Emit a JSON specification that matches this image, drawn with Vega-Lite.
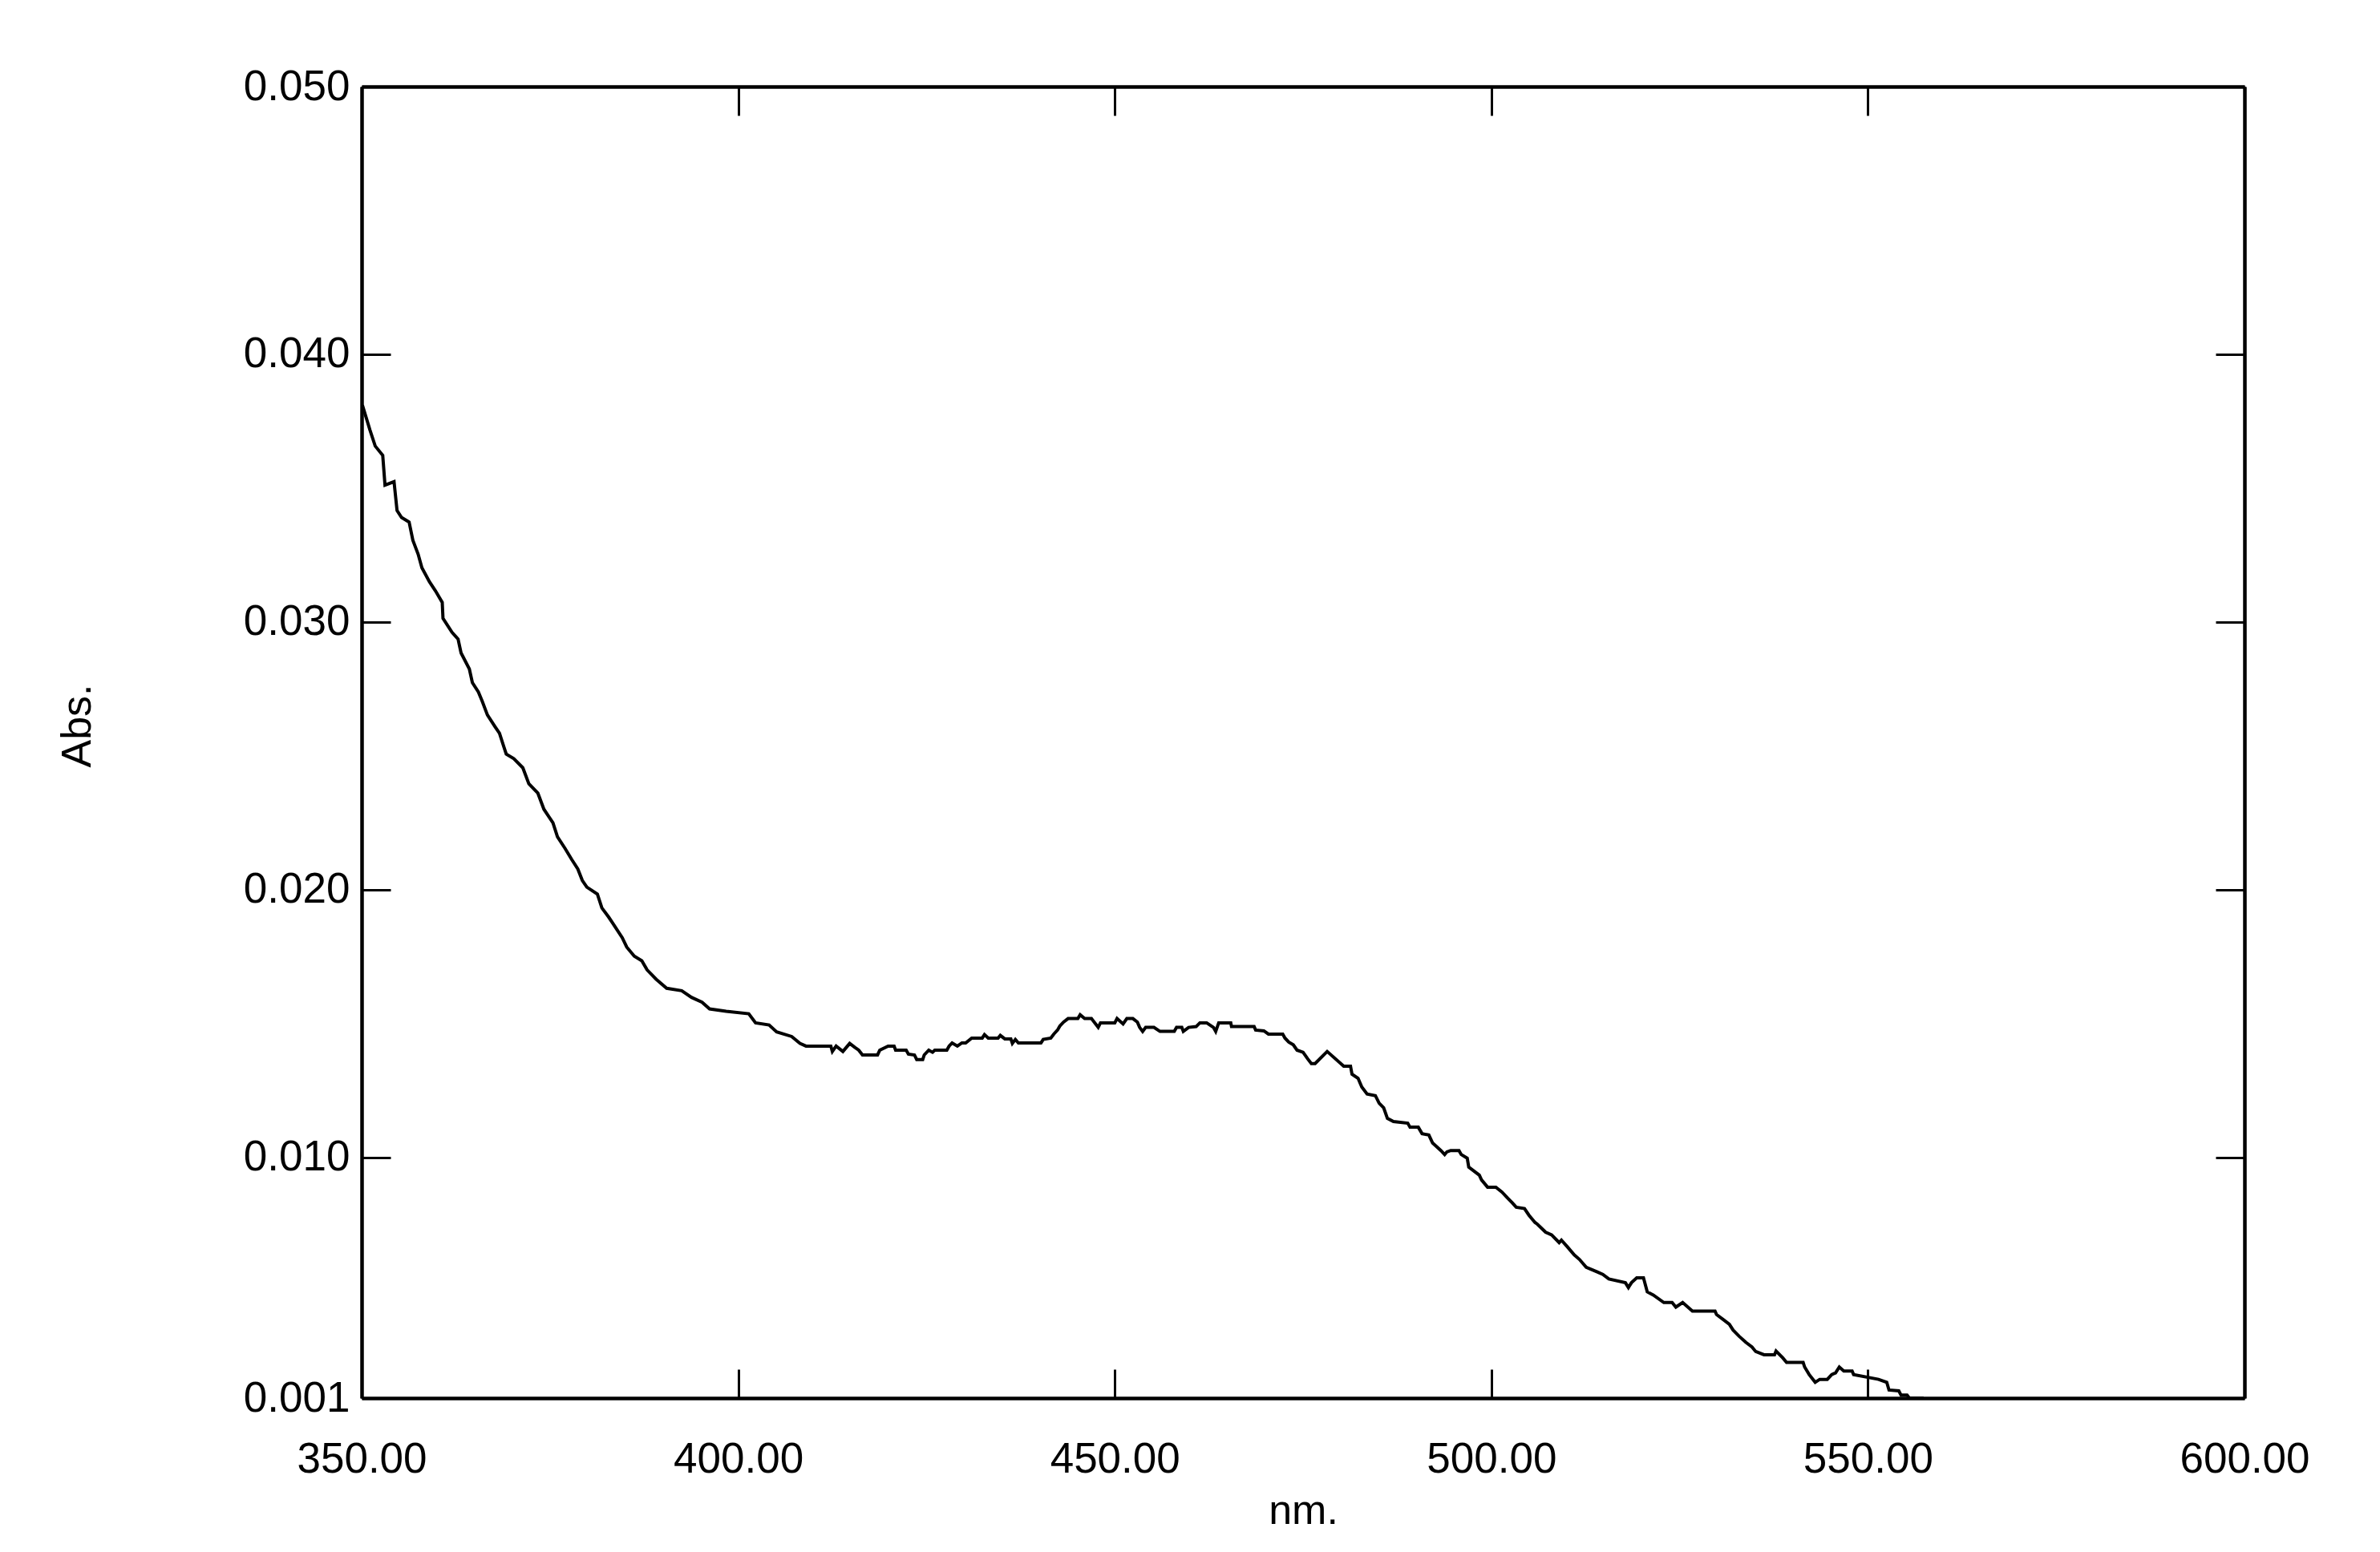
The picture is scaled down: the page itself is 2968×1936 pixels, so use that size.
{
  "$schema": "https://vega.github.io/schema/vega-lite/v6.json",
  "width": 2348,
  "height": 1636,
  "autosize": {"type": "none"},
  "padding": {"left": 451, "top": 108, "right": 169, "bottom": 192},
  "background": "white",
  "config": {
    "view": {"stroke": null},
    "font": "Liberation Sans",
    "axis": {
      "grid": false,
      "domainColor": "black",
      "domainWidth": 4.5,
      "tickColor": "black",
      "tickWidth": 3,
      "tickSize": -36,
      "labelColor": "black",
      "labelFont": "Liberation Sans",
      "labelFontSize": 53,
      "titleColor": "black",
      "titleFont": "Liberation Sans",
      "titleFontSize": 52,
      "titleFontWeight": "normal"
    }
  },
  "data": {
    "values": [
      {"nm": 350.1, "abs": 0.0381},
      {"nm": 351.1, "abs": 0.03717},
      {"nm": 351.8, "abs": 0.03657},
      {"nm": 352.8, "abs": 0.03622},
      {"nm": 353.1, "abs": 0.03511},
      {"nm": 354.3, "abs": 0.03524},
      {"nm": 354.7, "abs": 0.03416},
      {"nm": 355.3, "abs": 0.0339},
      {"nm": 356.3, "abs": 0.03373},
      {"nm": 356.8, "abs": 0.03305},
      {"nm": 357.5, "abs": 0.03253},
      {"nm": 358.0, "abs": 0.03202},
      {"nm": 359.0, "abs": 0.0315},
      {"nm": 359.8, "abs": 0.03116},
      {"nm": 360.7, "abs": 0.03073},
      {"nm": 360.8, "abs": 0.03013},
      {"nm": 362.0, "abs": 0.02961},
      {"nm": 362.8, "abs": 0.02936},
      {"nm": 363.2, "abs": 0.02884},
      {"nm": 364.3, "abs": 0.02824},
      {"nm": 364.7, "abs": 0.02773},
      {"nm": 365.5, "abs": 0.02738},
      {"nm": 366.0, "abs": 0.02704},
      {"nm": 366.7, "abs": 0.02652},
      {"nm": 367.7, "abs": 0.02609},
      {"nm": 368.3, "abs": 0.02584},
      {"nm": 368.9, "abs": 0.02532},
      {"nm": 369.2, "abs": 0.02506},
      {"nm": 370.2, "abs": 0.02489},
      {"nm": 371.4, "abs": 0.02455},
      {"nm": 372.2, "abs": 0.02395},
      {"nm": 373.4, "abs": 0.0236},
      {"nm": 374.2, "abs": 0.023},
      {"nm": 375.4, "abs": 0.02249},
      {"nm": 376.0, "abs": 0.02197},
      {"nm": 377.0, "abs": 0.02154},
      {"nm": 377.9, "abs": 0.02112},
      {"nm": 378.7, "abs": 0.02077},
      {"nm": 379.3, "abs": 0.02034},
      {"nm": 379.9, "abs": 0.02009},
      {"nm": 381.3, "abs": 0.01983},
      {"nm": 381.9, "abs": 0.01931},
      {"nm": 382.8, "abs": 0.01897},
      {"nm": 383.6, "abs": 0.01863},
      {"nm": 384.6, "abs": 0.0182},
      {"nm": 385.2, "abs": 0.01785},
      {"nm": 386.2, "abs": 0.01751},
      {"nm": 387.2, "abs": 0.01734},
      {"nm": 387.9, "abs": 0.017},
      {"nm": 389.1, "abs": 0.01665},
      {"nm": 390.5, "abs": 0.01631},
      {"nm": 392.5, "abs": 0.01622},
      {"nm": 393.8, "abs": 0.01597},
      {"nm": 395.2, "abs": 0.01579},
      {"nm": 396.2, "abs": 0.01554},
      {"nm": 398.4, "abs": 0.01545},
      {"nm": 401.4, "abs": 0.01536},
      {"nm": 402.3, "abs": 0.01502},
      {"nm": 404.1, "abs": 0.01494},
      {"nm": 405.1, "abs": 0.01468},
      {"nm": 407.1, "abs": 0.01451},
      {"nm": 408.2, "abs": 0.01425},
      {"nm": 409.0, "abs": 0.01415},
      {"nm": 412.3, "abs": 0.01415},
      {"nm": 412.5, "abs": 0.01395},
      {"nm": 413.0, "abs": 0.01415},
      {"nm": 413.9, "abs": 0.01395},
      {"nm": 414.8, "abs": 0.01425},
      {"nm": 415.5, "abs": 0.0141},
      {"nm": 416.0, "abs": 0.014},
      {"nm": 416.5, "abs": 0.01382},
      {"nm": 418.5, "abs": 0.01382},
      {"nm": 418.8, "abs": 0.014},
      {"nm": 419.9, "abs": 0.01415},
      {"nm": 420.7, "abs": 0.01415},
      {"nm": 420.9, "abs": 0.014},
      {"nm": 422.3, "abs": 0.014},
      {"nm": 422.6, "abs": 0.01385},
      {"nm": 423.4, "abs": 0.01382},
      {"nm": 423.7, "abs": 0.01365},
      {"nm": 424.5, "abs": 0.01365},
      {"nm": 424.7, "abs": 0.01382},
      {"nm": 425.3, "abs": 0.014},
      {"nm": 425.8, "abs": 0.01392},
      {"nm": 426.1, "abs": 0.014},
      {"nm": 427.7, "abs": 0.014},
      {"nm": 428.0, "abs": 0.01415},
      {"nm": 428.4, "abs": 0.01427},
      {"nm": 429.1, "abs": 0.01415},
      {"nm": 429.7, "abs": 0.01427},
      {"nm": 430.2, "abs": 0.01427},
      {"nm": 431.0, "abs": 0.01445},
      {"nm": 432.4, "abs": 0.01445},
      {"nm": 432.7, "abs": 0.01458},
      {"nm": 433.2, "abs": 0.01445},
      {"nm": 434.5, "abs": 0.01445},
      {"nm": 434.8, "abs": 0.01455},
      {"nm": 435.4, "abs": 0.01442},
      {"nm": 436.2, "abs": 0.01442},
      {"nm": 436.4, "abs": 0.01425},
      {"nm": 436.8, "abs": 0.0144},
      {"nm": 437.2, "abs": 0.01427},
      {"nm": 440.2, "abs": 0.01427},
      {"nm": 440.5, "abs": 0.0144},
      {"nm": 441.5, "abs": 0.01445},
      {"nm": 441.9, "abs": 0.0146},
      {"nm": 442.4, "abs": 0.01475},
      {"nm": 442.7, "abs": 0.0149},
      {"nm": 443.2, "abs": 0.01505},
      {"nm": 443.8, "abs": 0.01518},
      {"nm": 445.1, "abs": 0.01518},
      {"nm": 445.4, "abs": 0.01532},
      {"nm": 446.0, "abs": 0.01518},
      {"nm": 446.9, "abs": 0.01518},
      {"nm": 447.8, "abs": 0.01485},
      {"nm": 448.1, "abs": 0.01502},
      {"nm": 450.0, "abs": 0.01502},
      {"nm": 450.3, "abs": 0.01518},
      {"nm": 451.1, "abs": 0.01498},
      {"nm": 451.6, "abs": 0.01518},
      {"nm": 452.4, "abs": 0.01518},
      {"nm": 453.0, "abs": 0.01505},
      {"nm": 453.3, "abs": 0.01485},
      {"nm": 453.7, "abs": 0.0147},
      {"nm": 454.1, "abs": 0.01485},
      {"nm": 455.2, "abs": 0.01485},
      {"nm": 456.0, "abs": 0.0147},
      {"nm": 457.9, "abs": 0.0147},
      {"nm": 458.2, "abs": 0.01485},
      {"nm": 458.9, "abs": 0.01485},
      {"nm": 459.1, "abs": 0.0147},
      {"nm": 459.8, "abs": 0.01485},
      {"nm": 460.8, "abs": 0.01488},
      {"nm": 461.3, "abs": 0.01502},
      {"nm": 462.2, "abs": 0.01502},
      {"nm": 463.1, "abs": 0.01485},
      {"nm": 463.4, "abs": 0.0147},
      {"nm": 463.8, "abs": 0.01502},
      {"nm": 465.4, "abs": 0.01502},
      {"nm": 465.5, "abs": 0.01488},
      {"nm": 468.5, "abs": 0.01488},
      {"nm": 468.7, "abs": 0.01475},
      {"nm": 469.8, "abs": 0.01472},
      {"nm": 470.4, "abs": 0.0146},
      {"nm": 472.3, "abs": 0.0146},
      {"nm": 472.6, "abs": 0.01445},
      {"nm": 473.1, "abs": 0.0143},
      {"nm": 473.7, "abs": 0.0142},
      {"nm": 474.2, "abs": 0.014},
      {"nm": 475.0, "abs": 0.01392},
      {"nm": 475.6, "abs": 0.01368},
      {"nm": 476.1, "abs": 0.0135},
      {"nm": 476.6, "abs": 0.0135},
      {"nm": 478.2, "abs": 0.01395},
      {"nm": 480.4, "abs": 0.0134},
      {"nm": 481.3, "abs": 0.0134},
      {"nm": 481.5, "abs": 0.0131},
      {"nm": 482.3, "abs": 0.01295},
      {"nm": 482.8, "abs": 0.01262},
      {"nm": 483.5, "abs": 0.01236},
      {"nm": 484.6, "abs": 0.0123},
      {"nm": 485.1, "abs": 0.01202},
      {"nm": 485.7, "abs": 0.01185},
      {"nm": 486.2, "abs": 0.01145},
      {"nm": 487.0, "abs": 0.01133},
      {"nm": 488.9, "abs": 0.01127},
      {"nm": 489.2, "abs": 0.01112},
      {"nm": 490.3, "abs": 0.01112},
      {"nm": 490.8, "abs": 0.01088},
      {"nm": 491.7, "abs": 0.01083},
      {"nm": 492.2, "abs": 0.01053},
      {"nm": 493.3, "abs": 0.01025},
      {"nm": 493.8, "abs": 0.0101},
      {"nm": 494.1, "abs": 0.0102},
      {"nm": 494.6, "abs": 0.01025},
      {"nm": 495.7, "abs": 0.01025},
      {"nm": 496.0, "abs": 0.0101},
      {"nm": 496.8, "abs": 0.00996},
      {"nm": 497.0, "abs": 0.00963},
      {"nm": 498.4, "abs": 0.00933},
      {"nm": 498.7, "abs": 0.00915},
      {"nm": 499.5, "abs": 0.00888},
      {"nm": 500.6, "abs": 0.00888},
      {"nm": 501.4, "abs": 0.0087},
      {"nm": 502.2, "abs": 0.00846},
      {"nm": 502.8, "abs": 0.00829},
      {"nm": 503.3, "abs": 0.00813},
      {"nm": 504.4, "abs": 0.00808},
      {"nm": 505.0, "abs": 0.00783},
      {"nm": 505.8, "abs": 0.00756},
      {"nm": 506.1, "abs": 0.0075},
      {"nm": 507.2, "abs": 0.0072},
      {"nm": 508.0, "abs": 0.0071},
      {"nm": 509.0, "abs": 0.00681},
      {"nm": 509.3, "abs": 0.0069},
      {"nm": 510.1, "abs": 0.00665},
      {"nm": 511.0, "abs": 0.00635},
      {"nm": 511.7, "abs": 0.00618},
      {"nm": 512.6, "abs": 0.00589},
      {"nm": 514.0, "abs": 0.00572},
      {"nm": 514.8, "abs": 0.00562},
      {"nm": 515.6, "abs": 0.00545},
      {"nm": 517.8, "abs": 0.00531},
      {"nm": 518.2, "abs": 0.00513},
      {"nm": 518.6, "abs": 0.00531},
      {"nm": 519.3, "abs": 0.00549},
      {"nm": 520.2, "abs": 0.00549},
      {"nm": 520.7, "abs": 0.00497},
      {"nm": 521.5, "abs": 0.00485},
      {"nm": 522.9, "abs": 0.00457},
      {"nm": 524.0, "abs": 0.00457},
      {"nm": 524.5, "abs": 0.0044},
      {"nm": 525.4, "abs": 0.00457},
      {"nm": 526.7, "abs": 0.00425},
      {"nm": 529.7, "abs": 0.00425},
      {"nm": 529.9, "abs": 0.00412},
      {"nm": 530.8, "abs": 0.00393},
      {"nm": 531.6, "abs": 0.00376},
      {"nm": 532.1, "abs": 0.00354},
      {"nm": 532.9, "abs": 0.00331},
      {"nm": 533.8, "abs": 0.00308},
      {"nm": 534.6, "abs": 0.00291},
      {"nm": 535.1, "abs": 0.00274},
      {"nm": 536.2, "abs": 0.00262},
      {"nm": 537.6, "abs": 0.00262},
      {"nm": 537.8, "abs": 0.00276},
      {"nm": 538.7, "abs": 0.0025},
      {"nm": 539.2, "abs": 0.00233},
      {"nm": 541.4, "abs": 0.00233},
      {"nm": 541.6, "abs": 0.00216},
      {"nm": 542.2, "abs": 0.00188},
      {"nm": 543.0, "abs": 0.00159},
      {"nm": 543.6, "abs": 0.0017},
      {"nm": 544.6, "abs": 0.0017},
      {"nm": 545.2, "abs": 0.00188},
      {"nm": 545.7, "abs": 0.00194},
      {"nm": 546.2, "abs": 0.00216},
      {"nm": 546.8, "abs": 0.00201},
      {"nm": 547.9, "abs": 0.00201},
      {"nm": 548.1, "abs": 0.00188},
      {"nm": 551.4, "abs": 0.0017},
      {"nm": 552.5, "abs": 0.00159},
      {"nm": 552.8, "abs": 0.0013},
      {"nm": 554.1, "abs": 0.00127},
      {"nm": 554.4, "abs": 0.00111},
      {"nm": 555.2, "abs": 0.00111},
      {"nm": 555.5, "abs": 0.001},
      {"nm": 557.4, "abs": 0.001}
    ]
  },
  "layer": [
    {
      "mark": {"type": "line", "color": "black", "strokeWidth": 4},
      "encoding": {
        "x": {
          "field": "nm", "type": "quantitative",
          "scale": {"domain": [350, 600], "nice": false, "zero": false},
          "axis": {
            "orient": "bottom",
            "values": [350, 400, 450, 500, 550, 600],
            "format": ".2f",
            "labelPadding": 86,
            "labelFlush": false,
            "labelOverlap": false,
            "title": "nm.",
            "titlePadding": 12
          }
        },
        "y": {
          "field": "abs", "type": "quantitative",
          "scale": {"domain": [0.001, 0.05], "nice": false, "zero": false},
          "axis": {
            "orient": "left",
            "values": [0.001, 0.01, 0.02, 0.03, 0.04, 0.05],
            "format": ".3f",
            "labelPadding": 51,
            "labelFlush": false,
            "labelOverlap": false,
            "title": "Abs.",
            "titlePadding": 180,
            "titleY": 797
          }
        }
      }
    },
    {
      "mark": {"type": "line", "color": "black", "strokeWidth": 4, "opacity": 0},
      "encoding": {
        "x": {
          "field": "nm", "type": "quantitative",
          "axis": {
            "orient": "top",
            "values": [350, 400, 450, 500, 550, 600],
            "labels": false,
            "title": null
          }
        },
        "y": {
          "field": "abs", "type": "quantitative",
          "axis": {
            "orient": "right",
            "values": [0.001, 0.01, 0.02, 0.03, 0.04, 0.05],
            "labels": false,
            "title": null
          }
        }
      }
    }
  ],
  "resolve": {"axis": {"x": "independent", "y": "independent"}}
}
